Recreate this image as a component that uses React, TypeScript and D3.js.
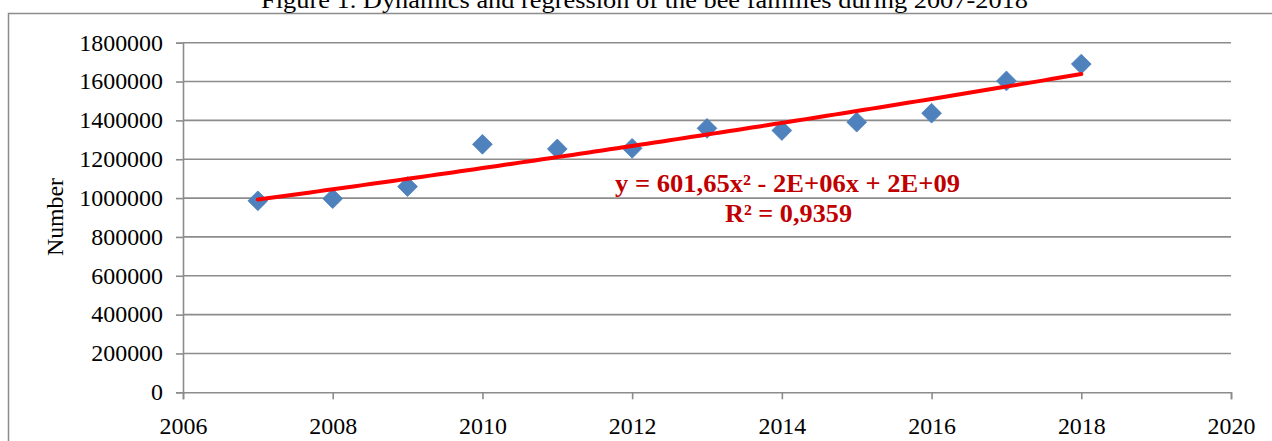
import React, { useEffect, useRef } from "react";
import * as d3 from "d3";

const width = 1272;
const height = 441;
const margin = { top: 42.7, right: 41, bottom: 48.7, left: 183 };

const title = "Figure 1. Dynamics and regression of the bee families during 2007-2018";
const yLabel = "Number";
const equation = "y = 601,65x² - 2E+06x + 2E+09";
const rSquared = "R² = 0,9359";

const years = [2007, 2008, 2009, 2010, 2011, 2012, 2013, 2014, 2015, 2016, 2017, 2018];
const families = [
  986000, 997000, 1059000, 1277000, 1253000, 1256000, 1359000, 1348000, 1391000, 1437000,
  1603000, 1690000
];
const xTicks = [2006, 2008, 2010, 2012, 2014, 2016, 2018, 2020];
const yTicks = [0, 200000, 400000, 600000, 800000, 1000000, 1200000, 1400000, 1600000, 1800000];

const font = "'Liberation Serif', 'Times New Roman', serif";
const gridColor = "#8c8c8c";

// least squares quadratic, x centred for stability
function quadFit(xs: number[], ys: number[]) {
  const x0 = d3.mean(xs) as number;
  const u = xs.map(x => x - x0);
  const s = (p: number) => d3.sum(u, v => Math.pow(v, p));
  const t = (p: number) => d3.sum(u, (v, i) => Math.pow(v, p) * ys[i]);
  const n = xs.length;
  const m = [
    [s(4), s(3), s(2)],
    [s(3), s(2), s(1)],
    [s(2), s(1), n]
  ];
  const r = [t(2), t(1), t(0)];
  const det = (a: number[][]) =>
    a[0][0] * (a[1][1] * a[2][2] - a[1][2] * a[2][1]) -
    a[0][1] * (a[1][0] * a[2][2] - a[1][2] * a[2][0]) +
    a[0][2] * (a[1][0] * a[2][1] - a[1][1] * a[2][0]);
  const D = det(m);
  const col = (k: number) => m.map((row, i) => row.map((v, j) => (j === k ? r[i] : v)));
  const a = det(col(0)) / D;
  const b = det(col(1)) / D;
  const c = det(col(2)) / D;
  return (x: number) => a * (x - x0) * (x - x0) + b * (x - x0) + c;
}

// widen glyphs a little, the source text is set wider than Liberation Serif
function stretch(sel: any, factor: number) {
  sel.each(function (this: SVGTextElement) {
    const w = this.getComputedTextLength();
    d3.select(this).attr("textLength", w * factor).attr("lengthAdjust", "spacingAndGlyphs");
  });
}

export default function App() {
  const ref = useRef<SVGSVGElement>(null);

  useEffect(() => {
    const svg = d3.select(ref.current);
    svg.selectAll("*").remove();

    const x = d3
      .scaleLinear()
      .domain([2006, 2020])
      .range([margin.left, width - margin.right]);
    const y = d3
      .scaleLinear()
      .domain([0, 1800000])
      .range([height - margin.bottom, margin.top]);

    // outer frame (only top and left are inside the picture)
    svg
      .append("path")
      .attr("d", `M8.5,${height} V13.5 H${width}`)
      .attr("fill", "none")
      .attr("stroke", gridColor)
      .attr("stroke-width", 1.5);

    svg
      .append("text")
      .attr("x", 644.5)
      .attr("y", 7.5)
      .attr("text-anchor", "middle")
      .attr("font-family", font)
      .attr("font-size", 24)
      .attr("fill", "#000")
      .attr("textLength", 767)
      .attr("lengthAdjust", "spacingAndGlyphs")
      .text(title);

    // gridlines
    svg
      .append("g")
      .selectAll("line")
      .data(yTicks.filter(d => d > 0))
      .join("line")
      .attr("x1", x(2006))
      .attr("x2", x(2020))
      .attr("y1", d => y(d))
      .attr("y2", d => y(d))
      .attr("stroke", gridColor)
      .attr("stroke-width", 1.6);

    const yAxis = svg
      .append("g")
      .attr("transform", `translate(${margin.left},0)`)
      .call(
        d3
          .axisLeft(y)
          .tickValues(yTicks)
          .tickSize(7)
          .tickPadding(13)
          .tickFormat(d => String(d))
      );

    const xAxis = svg
      .append("g")
      .attr("transform", `translate(0,${height - margin.bottom})`)
      .call(
        d3
          .axisBottom(x)
          .tickValues(xTicks)
          .tickSize(7)
          .tickPadding(18)
          .tickFormat(d => String(d))
      );

    [yAxis, xAxis].forEach(g => {
      g.select(".domain").attr("stroke", gridColor).attr("stroke-width", 1.6);
      g.selectAll(".tick line").attr("stroke", gridColor).attr("stroke-width", 1.6);
      g.selectAll(".tick text")
        .attr("font-family", font)
        .attr("font-size", 23)
        .attr("fill", "#000");
    });
    stretch(yAxis.selectAll(".tick text"), 1.04);
    stretch(xAxis.selectAll(".tick text"), 1.04);

    svg
      .append("text")
      .attr("transform", `translate(63,${217}) rotate(-90)`)
      .attr("text-anchor", "middle")
      .attr("font-family", font)
      .attr("font-size", 23)
      .attr("fill", "#000")
      .attr("textLength", 78)
      .attr("lengthAdjust", "spacingAndGlyphs")
      .text(yLabel);

    // markers
    svg
      .append("g")
      .selectAll("path")
      .data(years)
      .join("path")
      .attr("d", d3.symbol().type(d3.symbolSquare).size(196)())
      .attr("transform", (d, i) => `translate(${x(d)},${y(families[i])}) rotate(45)`)
      .attr("fill", "#4f81bd")
      .attr("stroke", "#4a7ebb")
      .attr("stroke-width", 0.75);

    // polynomial trendline
    const fit = quadFit(years, families);
    const xs = d3.range(0, 111).map(i => 2007 + i * 0.1);
    const line = d3
      .line<number>()
      .x(d => x(d))
      .y(d => y(fit(d)));
    svg
      .append("path")
      .datum(xs)
      .attr("d", line)
      .attr("fill", "none")
      .attr("stroke", "#ff0000")
      .attr("stroke-width", 4)
      .attr("stroke-linecap", "round");

    const eq = svg
      .append("g")
      .attr("font-family", font)
      .attr("font-size", 25)
      .attr("font-weight", "bold")
      .attr("fill", "#c00000")
      .attr("text-anchor", "middle")
      .attr("lengthAdjust", "spacingAndGlyphs");
    eq.append("text")
      .attr("x", 787.5)
      .attr("y", 191.5)
      .attr("textLength", 345)
      .attr("lengthAdjust", "spacingAndGlyphs")
      .text(equation);
    eq.append("text")
      .attr("x", 788.5)
      .attr("y", 221.5)
      .attr("textLength", 127)
      .attr("lengthAdjust", "spacingAndGlyphs")
      .text(rSquared);
  }, []);

  return (
    <svg
      ref={ref}
      width={width}
      height={height}
      style={{ position: "absolute", left: 0, top: 0, background: "#fff" }}
    />
  );
}
